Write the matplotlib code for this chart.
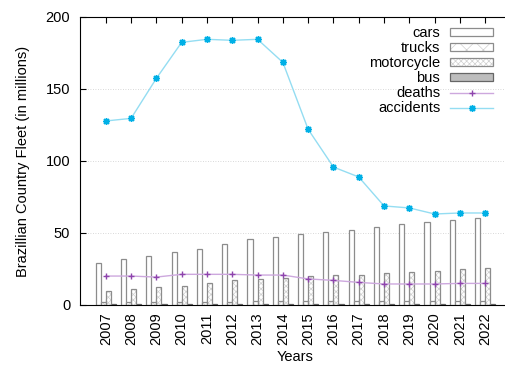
import matplotlib
matplotlib.use("Agg")
import matplotlib.pyplot as plt
import numpy as np

plt.rcParams['font.family'] = ['Liberation Sans', 'DejaVu Sans']
plt.rcParams['hatch.linewidth'] = 0.5

years = [2007, 2008, 2009, 2010, 2011, 2012, 2013, 2014, 2015,
         2016, 2017, 2018, 2019, 2020, 2021, 2022]
cars = [29.0, 31.7, 34.0, 36.8, 38.9, 42.1, 45.6, 47.0, 49.0,
        51.0, 52.0, 54.0, 56.0, 57.9, 59.0, 60.2]
trucks = [2.0, 2.1, 2.1, 2.2, 2.3, 2.4, 2.5, 2.5, 2.5,
          2.5, 2.6, 2.6, 2.7, 2.8, 2.9, 3.0]
motorcycle = [9.7, 11.1, 12.3, 13.2, 15.5, 17.1, 18.0, 19.0, 20.1,
              20.8, 20.8, 22.2, 22.9, 23.6, 25.0, 25.7]
bus = [0.6, 0.6, 0.7, 0.7, 0.7, 0.8, 0.8, 0.8, 0.8,
       0.8, 0.8, 0.9, 0.9, 0.9, 0.9, 1.0]
deaths = [20.1, 20.1, 19.4, 21.3, 21.3, 21.3, 20.8, 20.8, 18.1,
          17.1, 15.7, 14.6, 14.6, 14.6, 15.0, 15.0]
accidents = [127.8, 129.6, 157.4, 182.4, 184.5, 183.8, 184.5, 168.5, 122.0,
             95.8, 88.9, 68.8, 67.4, 63.2, 63.9, 63.9]

W, H = 506, 367
fig = plt.figure(figsize=(W / 100, H / 100), dpi=100)
ax = fig.add_axes([80 / W, (H - 305) / H, (511 - 80) / W, (305 - 17) / H])

x = np.array(years, dtype=float)
bw = 0.2
edge = '#8c8c8c'
hatch_c = '#d0d0d0'
b_cars = ax.bar(x - 0.3, cars, bw, facecolor='white', edgecolor=edge, linewidth=0.9, zorder=2)
b_tr_h = ax.bar(x - 0.1, trucks, bw, facecolor='white', edgecolor=hatch_c, linewidth=0, hatch='xx', zorder=2)
b_tr_o = ax.bar(x - 0.1, trucks, bw, fill=False, edgecolor=edge, linewidth=0.9, zorder=2.1)
b_mo_h = ax.bar(x + 0.1, motorcycle, bw, facecolor='white', edgecolor=hatch_c, linewidth=0, hatch='xxxxxx', zorder=2)
b_mo_o = ax.bar(x + 0.1, motorcycle, bw, fill=False, edgecolor=edge, linewidth=0.9, zorder=2.1)
b_bus = ax.bar(x + 0.3, bus, bw, facecolor='#bdbdbd', edgecolor='#666666', linewidth=0.9, zorder=2)

l_d, = ax.plot(x, deaths, color='#cda8de', lw=1.0, marker='+', ms=5, mew=1.0,
               mec='#8e44ad', zorder=3)
l_a, = ax.plot(x, accidents, color='#94ddf2', lw=1.0, marker=(8, 2, 0), ms=5, mew=1.0,
               mec='#00b0e6', zorder=3)

ax.set_xlim(2007 - 1.02, 2022 + 1.02)
ax.set_ylim(0, 200)
ax.set_yticks([0, 50, 100, 150, 200])
ax.set_xticks(years)
ax.set_xticklabels([str(y) for y in years], rotation=90, fontsize=10.5)
ax.tick_params(axis='y', labelsize=10.5, direction='in', length=4, pad=7)
ax.tick_params(axis='x', direction='in', length=4, top=True, pad=5.5)
for yv in [50, 100, 150]:
    ax.axhline(yv, color='#cccccc', lw=0.6, ls=(0, (1, 2)), zorder=1)
ax.spines['right'].set_visible(False)

ax.set_ylabel('Brazillian Country Fleet (in millions)', fontsize=10.5, labelpad=11)
ax.set_xlabel('Years', fontsize=10.5, labelpad=3)

handles = [b_cars.patches[0], (b_tr_h.patches[0], b_tr_o.patches[0]),
           (b_mo_h.patches[0], b_mo_o.patches[0]), b_bus.patches[0], l_d, l_a]
labels = ['cars', 'trucks', 'motorcycle', 'bus', 'deaths', 'accidents']
leg = ax.legend(handles, labels, loc='upper right', bbox_to_anchor=(500 / W, (H - 19) / H),
                bbox_transform=fig.transFigure, frameon=False, markerfirst=False,
                fontsize=10.5, handlelength=2.9, handleheight=0.5,
                labelspacing=0.07, handletextpad=0.7, borderpad=0)

fig.savefig('out.png', dpi=100)
